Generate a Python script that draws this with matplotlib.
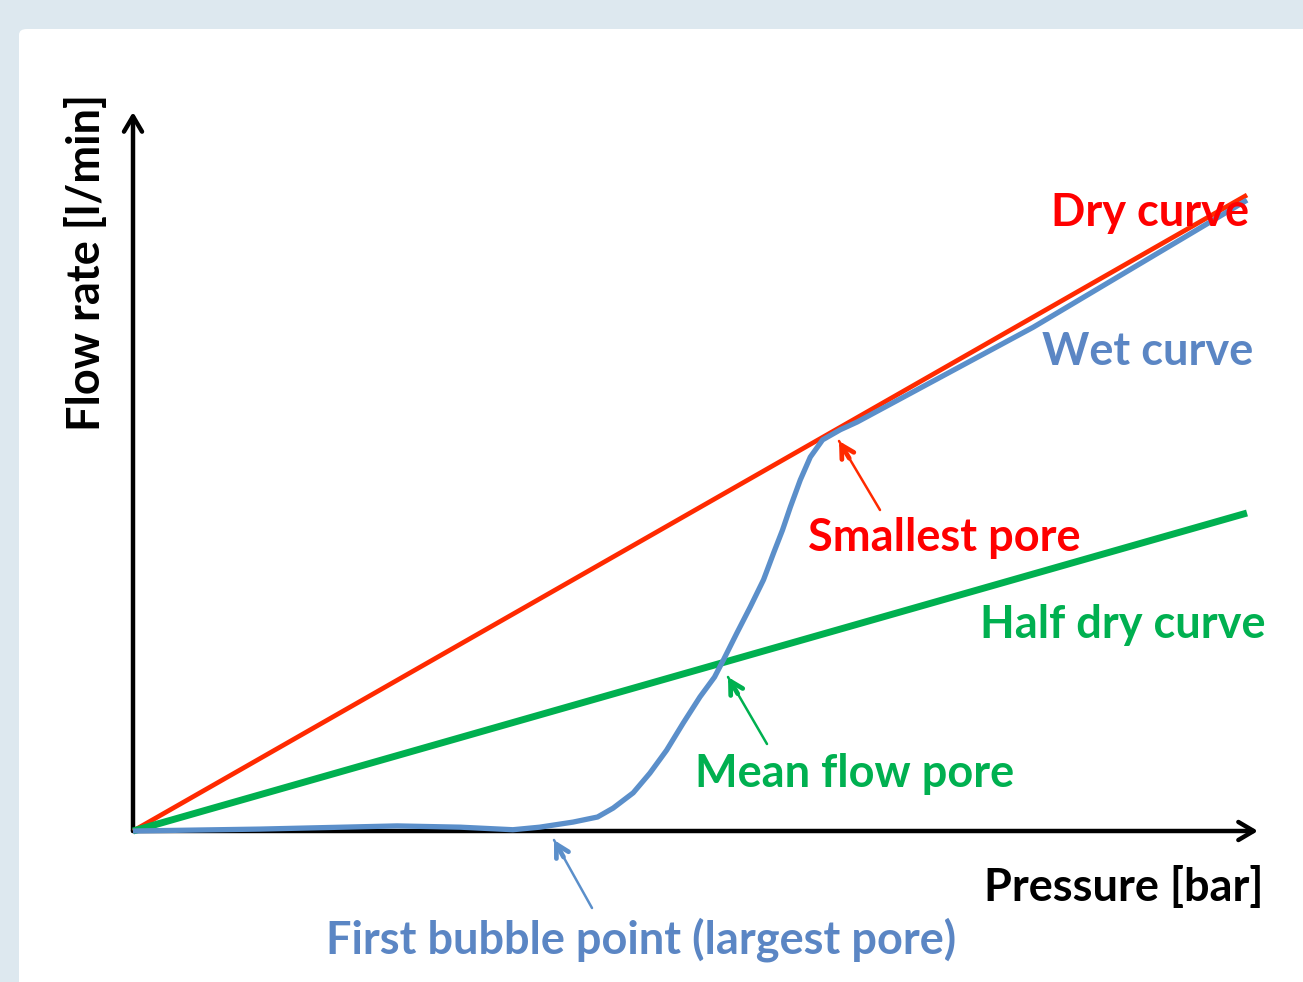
import matplotlib
matplotlib.use("Agg")
import matplotlib.pyplot as plt
from matplotlib.patches import FancyBboxPatch

# ---------------- data ----------------
pressure_dry = [0.0, 10.0]
flow_dry = [0.0, 10.0]

pressure_half = [0.0, 10.0]
flow_half = [0.0, 5.0]

pressure_wet = [0.0, 1.14, 2.37, 2.94, 3.41, 3.65, 3.95, 4.17, 4.31, 4.49, 4.64, 4.79,
                4.94, 5.09, 5.22, 5.30, 5.42, 5.54, 5.66, 5.75, 5.83, 5.90, 5.99,
                6.08, 6.19, 6.35, 6.50, 8.08, 10.0]
flow_wet = [0.0, 0.03, 0.08, 0.06, 0.02, 0.06, 0.14, 0.22, 0.36, 0.60, 0.91, 1.27,
            1.70, 2.11, 2.42, 2.69, 3.11, 3.52, 3.95, 4.37, 4.73, 5.09, 5.52,
            5.88, 6.15, 6.31, 6.43, 7.92, 9.92]

x_label = "Pressure [bar]"
y_label = "Flow rate [l/min]"
curve_labels = ["Dry curve", "Wet curve", "Half dry curve"]
point_labels = ["Smallest pore", "Mean flow pore", "First bubble point (largest pore)"]

# ---------------- style ----------------
RED_LINE = "#ff2a00"
RED_TXT = "#ff0000"
BLUE = "#5b8fca"
BLUE_TXT = "#5b86c4"
GREEN = "#00b050"
BG = "#dde8ef"
FONT = "Lato"

W, H = 1303, 982
fig = plt.figure(figsize=(W / 100, H / 100), dpi=100, facecolor=BG)

# white panel
panel = FancyBboxPatch((19 / W, -0.05), 1.0, (H - 29) / H + 0.05, boxstyle="round,pad=0,rounding_size=0.006",
                       transform=fig.transFigure, facecolor="white", edgecolor="none", zorder=-5)
fig.patches.append(panel)

# axes: origin at pixel (133, 831); x-axis tip at 1258, y-axis tip at 112
x0, y0, x1, y1 = 133, 831, 1258, 112
ax = fig.add_axes([x0 / W, (H - y0) / H, (x1 - x0) / W, (y0 - y1) / H], zorder=2)
ax.patch.set_alpha(0)
PX_X = 111.4   # pixels per pressure unit
PX_Y = 63.6    # pixels per flow unit
ax.set_xlim(0, (x1 - x0) / PX_X)
ax.set_ylim(0, (y0 - y1) / PX_Y)
ax.set_axis_off()


def P(px, py):
    """pixel position -> data coords"""
    return ((px - x0) / PX_X, (y0 - py) / PX_Y)


# axis arrows
arrow_kw = dict(arrowstyle="->,head_length=1.1,head_width=0.65", lw=3.2, color="black",
                shrinkA=0, shrinkB=0, capstyle="round", joinstyle="round")
ax.annotate("", xy=(1, 0), xytext=(0, 0), xycoords="axes fraction",
            arrowprops=arrow_kw, annotation_clip=False, zorder=2)
ax.annotate("", xy=(0, 1), xytext=(0, 0), xycoords="axes fraction",
            arrowprops=arrow_kw, annotation_clip=False, zorder=2)

# curves
ax.plot(pressure_dry, flow_dry, color=RED_LINE, lw=3.4, solid_capstyle="butt", zorder=4, clip_on=False)
ax.plot(pressure_half, flow_half, color=GREEN, lw=5.0, solid_capstyle="butt", zorder=4, clip_on=False)
ax.plot(pressure_wet, flow_wet, color=BLUE, lw=3.8, solid_capstyle="butt", solid_joinstyle="round",
        zorder=5, clip_on=False)

# curve labels
fs = 32.5
ax.text(*P(1150, 213), curve_labels[0], color=RED_TXT, fontsize=fs, fontweight="bold",
        family=FONT, ha="center", va="center", zorder=6)
ax.text(*P(1148, 352), curve_labels[1], color=BLUE_TXT, fontsize=fs, fontweight="bold",
        family=FONT, ha="center", va="center", zorder=6)
ax.text(*P(1123, 625), curve_labels[2], color=GREEN, fontsize=fs, fontweight="bold",
        family=FONT, ha="center", va="center", zorder=6)

# point labels with arrows
def pointer(tail, tip, color):
    ax.annotate("", xy=P(*tip), xytext=P(*tail),
                arrowprops=dict(arrowstyle="-", lw=1.8, color=color, shrinkA=0, shrinkB=0),
                annotation_clip=False, zorder=6)
    # short thick head
    fx = tip[0] + (tail[0] - tip[0]) * 0.25
    fy = tip[1] + (tail[1] - tip[1]) * 0.25
    ax.annotate("", xy=P(*tip), xytext=P(fx, fy),
                arrowprops=dict(arrowstyle="->,head_length=0.9,head_width=0.5", lw=3.4, color=color,
                                shrinkA=0, shrinkB=0, capstyle="round", joinstyle="round"),
                annotation_clip=False, zorder=6)

pointer((880, 510), (839, 441), RED_LINE)
ax.text(*P(944, 538), point_labels[0], color=RED_TXT, fontsize=fs, fontweight="bold",
        family=FONT, ha="center", va="center", zorder=6)

pointer((767, 744), (728, 677), GREEN)
ax.text(*P(855, 774), point_labels[1], color=GREEN, fontsize=fs, fontweight="bold",
        family=FONT, ha="center", va="center", zorder=6)

pointer((592, 908), (554, 840), BLUE)
ax.text(*P(641, 940), point_labels[2], color=BLUE_TXT, fontsize=fs, fontweight="bold",
        family=FONT, ha="center", va="center", zorder=6)

# axis labels
ax.text(*P(1124, 888), x_label, color="black", fontsize=fs, fontweight="bold",
        family=FONT, ha="center", va="center", zorder=6)
ax.text(*P(87, 262), y_label, color="black", fontsize=fs, fontweight="bold",
        family=FONT, ha="center", va="center", rotation=90, zorder=6)

fig.savefig("out.png", dpi=100, facecolor=BG)
